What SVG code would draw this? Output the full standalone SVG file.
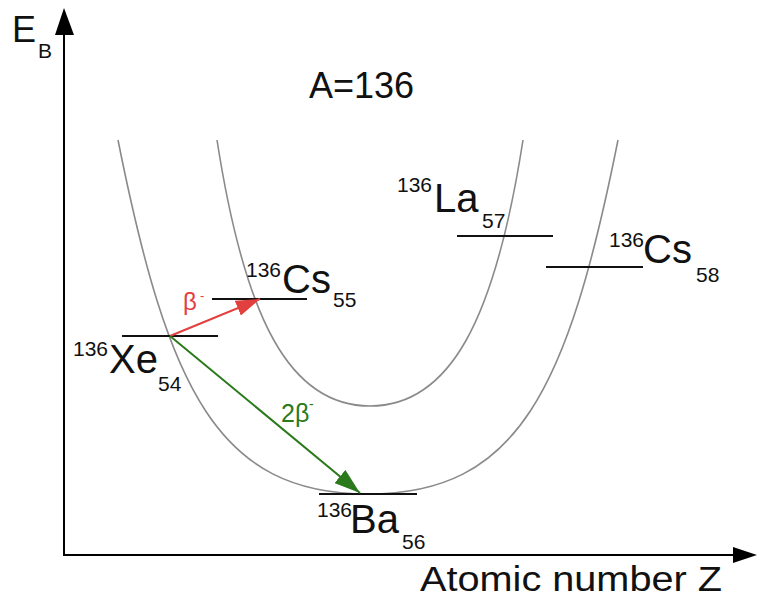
<svg xmlns="http://www.w3.org/2000/svg" width="758" height="600" viewBox="0 0 758 600">
<style>
text{font-family:"Liberation Sans",Arial,sans-serif;fill:#111}
.axis{stroke:#000;stroke-width:2;fill:none}
.curve{stroke:#8a8a8a;stroke-width:1.6;fill:none}
.level{stroke:#111;stroke-width:2}
.sup{font-size:21px}
.sym{font-size:40px}
.sub{font-size:21px}
</style>
<defs>
<marker id="arRed" markerUnits="userSpaceOnUse" markerWidth="24" markerHeight="16" refX="24" refY="8" orient="auto"><path d="M0,0 L24,8 L0,16 z" fill="#e2403e"/></marker>
<marker id="arGreen" markerUnits="userSpaceOnUse" markerWidth="26" markerHeight="17" refX="26" refY="8.5" orient="auto"><path d="M0,0 L26,8.5 L0,17 z" fill="#2a7a1c"/></marker>
</defs>
<g id="axes">
<line class="axis" x1="64" y1="555" x2="64" y2="34"/>
<path d="M55,35 L64,8 L74,35 z" fill="#000"/>
<line class="axis" x1="63" y1="555" x2="735" y2="555"/>
<path d="M733,547 L757,555 L733,563 z" fill="#000"/>
<text x="12" y="42" font-size="36">E</text>
<text x="38" y="58" font-size="21">B</text>
<text x="420" y="591" font-size="35" textLength="302" lengthAdjust="spacingAndGlyphs">Atomic number Z</text>
</g>
<text id="title" x="309" y="98" font-size="36">A=136</text>
<g id="parabolas">
<path class="curve" d="M118,140 C168,390 218,494 368,494 C518,494 568,390 618,140"/>
<path class="curve" d="M217,140 C245,320 290,406 370,406 C450,406 495,320 523,140"/>
</g>
<g id="Xe54">
<line class="level" x1="122" y1="336" x2="218" y2="336"/>
<text><tspan class="sup" x="73" y="356">136</tspan><tspan class="sym" x="109" y="373">Xe</tspan><tspan class="sub" x="158" y="391">54</tspan></text>
</g>
<g id="Cs55">
<line class="level" x1="212" y1="299" x2="307" y2="299"/>
<text><tspan class="sup" x="246" y="277">136</tspan><tspan class="sym" x="282" y="293">Cs</tspan><tspan class="sub" x="333" y="307">55</tspan></text>
</g>
<g id="La57">
<line class="level" x1="457" y1="236" x2="553" y2="236"/>
<text><tspan class="sup" x="397" y="192">136</tspan><tspan class="sym" x="434" y="212">La</tspan><tspan class="sub" x="482" y="228">57</tspan></text>
</g>
<g id="Cs58">
<line class="level" x1="546" y1="267" x2="643" y2="267"/>
<text><tspan class="sup" x="609" y="247">136</tspan><tspan class="sym" x="643" y="263">Cs</tspan><tspan class="sub" x="696" y="282">58</tspan></text>
</g>
<g id="Ba56">
<line class="level" x1="319" y1="494" x2="417" y2="494"/>
<text><tspan class="sup" x="317" y="517">136</tspan><tspan class="sym" x="350" y="533">Ba</tspan><tspan class="sub" x="402" y="549">56</tspan></text>
</g>
<g id="connectors">
<line x1="170" y1="336" x2="260" y2="299" stroke="#e2403e" stroke-width="2" marker-end="url(#arRed)"/>
<line x1="170" y1="336" x2="360" y2="493" stroke="#2a7a1c" stroke-width="2" marker-end="url(#arGreen)"/>
<text x="183" y="310" font-size="24" style="fill:#e2403e">β<tspan x="200" y="300" font-size="13">-</tspan></text>
<text x="281" y="422" font-size="25" style="fill:#2a7a1c">2β<tspan x="309" y="409" font-size="14">-</tspan></text>
</g>
</svg>
